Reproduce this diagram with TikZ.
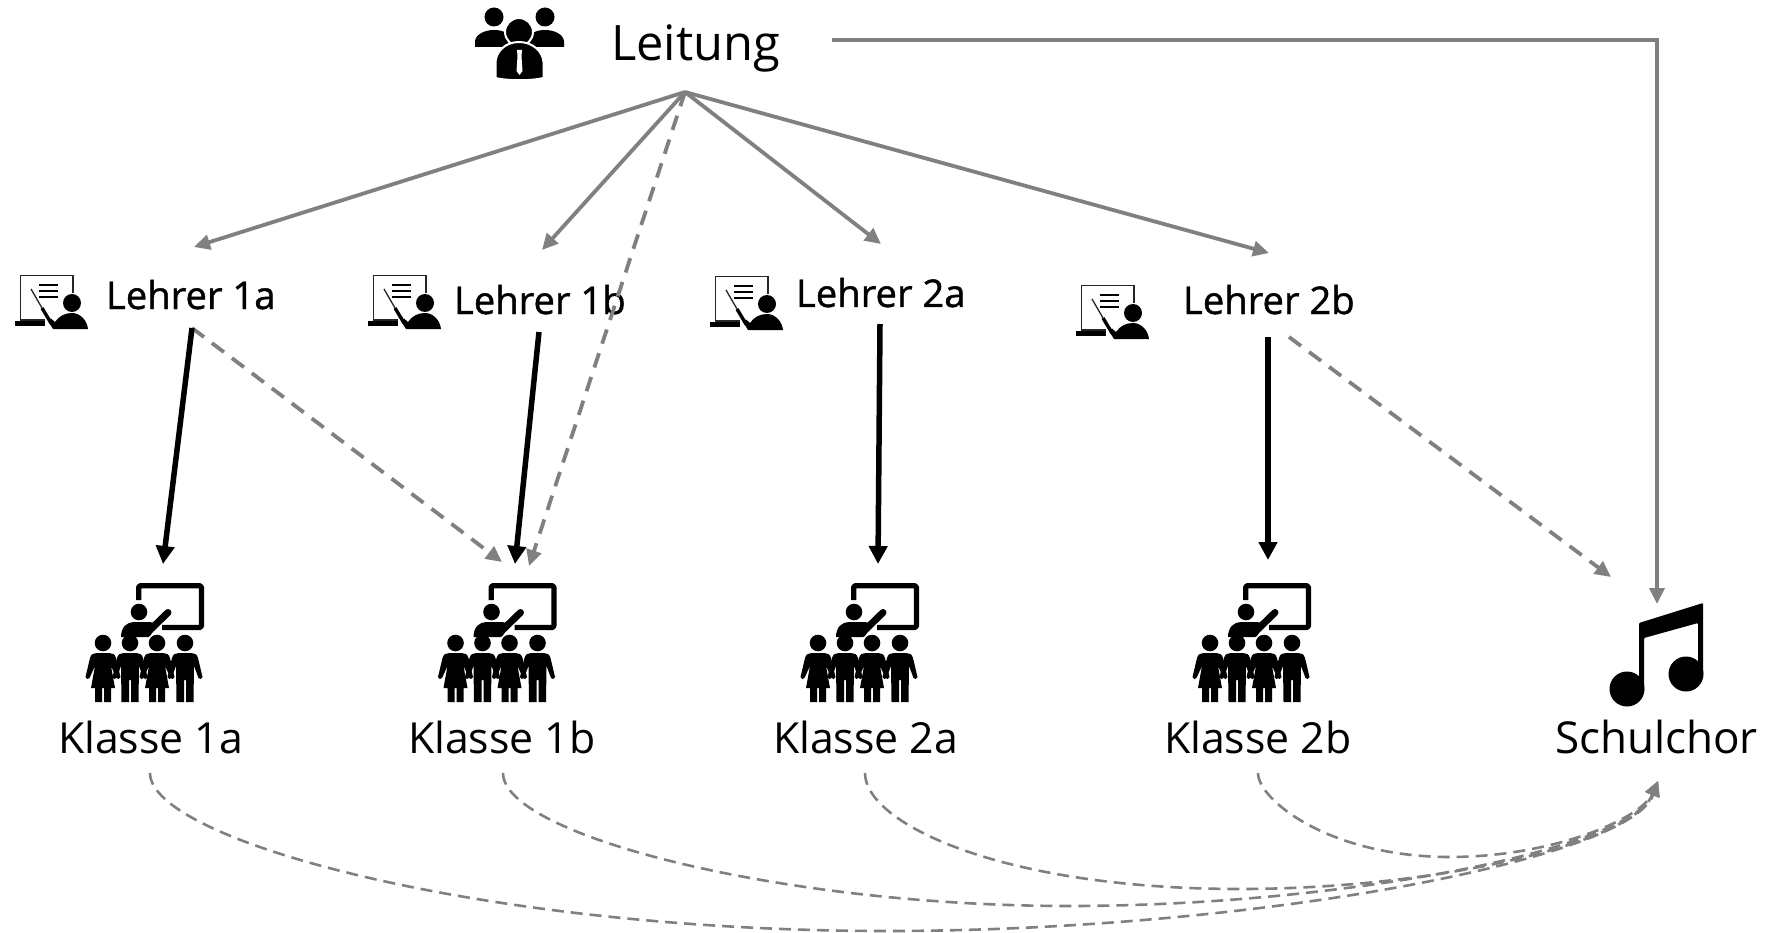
\documentclass[tikz,border=0pt]{standalone}
\usepackage{fontspec}
\setmainfont{Open Sans}
\newfontfamily\lehrfont[FakeBold=1.2]{Open Sans}
\usetikzlibrary{arrows.meta}
\definecolor{linegray}{HTML}{808080}
\tikzset{
  x=1pt,y=-1pt,
  leitlabel/.style={anchor=base west,inner sep=0,outer sep=0,font=\fontsize{48.8}{50}\selectfont},
  klasselabel/.style={anchor=base west,inner sep=0,outer sep=0,font=\fontsize{42.8}{46}\selectfont},
  chorlabel/.style={anchor=base west,inner sep=0,outer sep=0,font=\fontsize{44}{46}\selectfont},
  lehrerlabel/.style={anchor=base west,inner sep=0,outer sep=0,font=\lehrfont\fontsize{38.2}{40}\selectfont},
  grayarrow/.style={draw=linegray,line width=3.8pt,-{Triangle[length=16pt,width=15pt]}},
  graydash/.style={grayarrow,dash pattern=on 15pt off 10pt},
  blackarrow/.style={draw=black,line width=5.5pt,-{Triangle[length=18pt,width=18pt]}},
  curvedash/.style={draw=linegray,line width=2.6pt,dash pattern=on 12pt off 7pt,-{Triangle[length=15pt,width=14pt]}},
  teacher/.pic={
    \draw[line width=1.4pt,black!85] (73,293) -- (73,275.5) -- (20.5,275.5) -- (20.5,320) -- (45,320);
    \fill (15,321) rectangle (45,326);
    \foreach \yy in {285,291,297} \draw[line width=1.6pt] (39,\yy) -- (58,\yy);
    \draw[line width=1.3pt,black!85] (31,289) -- (42,308);
    \draw[line width=3.4pt] (42,308) -- (51,323);
    \fill (72,303) circle (9);
    \fill (53,329) -- (48,321) -- (51,318.5) -- (55,322) .. controls (59,316) and (65,313) .. (72,313) .. controls (80,313) and (87,320) .. (88,329) -- cycle;
  },
  boy/.pic={
    \fill (-6,0) .. controls (-9,0) and (-12,1) .. (-13,5) -- (-17.5,24) .. controls (-17.5,26) and (-14,27) .. (-13.5,25)
      -- (-9,13) -- (-8.5,49) -- (-1,49) -- (-1,27) -- (1,27) -- (1,49) -- (8.5,49) -- (9,13) -- (13.5,25)
      .. controls (14,27) and (17.5,26) .. (17.5,24) -- (13,5) .. controls (12,1) and (9,0) .. (6,0) -- cycle;
    \fill (0,-10) circle (8.3);
  },
  girl/.pic={
    \fill (-6,0) .. controls (-9,0) and (-12,1) .. (-13,5) -- (-17.5,24) .. controls (-17.5,26) and (-14,27) .. (-13.5,25)
      -- (-8,13) -- (-12,35) -- (-8,35) -- (-8,49) -- (-1,49) -- (-1,35) -- (1,35) -- (1,49) -- (8,49) -- (8,35) -- (12,35) -- (8,13) -- (13.5,25)
      .. controls (14,27) and (17.5,26) .. (17.5,24) -- (13,5) .. controls (12,1) and (9,0) .. (6,0) -- cycle;
    \fill (0,-10) circle (8.3);
  },
  classroom/.pic={
    \draw[line width=5.3pt,line join=round,rounded corners=1.5pt] (138.7,600) -- (138.7,585.7) -- (201.4,585.7) -- (201.4,627.5) -- (162,627.5);
    \fill (139,612) circle (8.3);
    \draw[line width=7pt,line cap=round] (150,630) -- (168,612.5);
    \fill (121,637) .. controls (121,627) and (127,622) .. (134,622) -- (150,622) -- (158,624) -- (150,636) -- (148,637) -- cycle;
    \path (103,653) pic {girl};
    \path (130,653) pic {boy};
    \path (157,653) pic {girl};
    \path (185,653) pic {boy};
  },
}
\begin{document}
\begin{tikzpicture}
\useasboundingbox (0,0) rectangle (1772,933);
% Leitung icon
\fill (494,17) circle (9.5);
\fill (545,17) circle (9.5);
\fill (475,47) -- (475,41) .. controls (476,34) and (485,30) .. (494,30) .. controls (503,30) and (512,33) .. (515,47) -- cycle;
\fill (564,47) -- (564,41) .. controls (563,34) and (554,30) .. (545,30) .. controls (536,30) and (527,33) .. (524,47) -- cycle;
\filldraw[draw=white,line width=2pt] (519,32) circle (14);
\filldraw[draw=white,line width=2pt] (495.5,78) -- (495.5,62) .. controls (496,52) and (505,42) .. (519,42) .. controls (533,42) and (543,52) .. (543.5,62) -- (543.5,78) .. controls (530,81) and (509,81) .. (495.5,78) -- cycle;
\fill[white] (517,50) -- (522,50) -- (521.5,56) -- (522.5,71) -- (519.5,75) -- (516.5,71) -- (517.5,56) -- cycle;
% Lehrer icons
\path (0,0) pic {teacher};
\path (353,0) pic {teacher};
\path (695,1) pic {teacher};
\path (1061,10) pic {teacher};
% classroom icons
\path (0,0) pic {classroom};
\path (352.5,0) pic {classroom};
\path (715,0) pic {classroom};
\path (1107,0) pic {classroom};
% music icon
\fill (1627,689) circle (17.5);
\fill (1686,674) circle (17.5);
\fill[rounded corners=1pt] (1639,692) -- (1639,623) -- (1703,603) -- (1703,676) -- (1698,676) -- (1698,623) -- (1644,638) -- (1644,692) -- cycle;
% labels
\node[leitlabel] (leitung) at (611,61) {Leitung};
\node[lehrerlabel] (l1a) at (106,309) {Lehrer 1a};
\node[lehrerlabel] (l1b) at (454,314) {Lehrer 1b};
\node[lehrerlabel] (l2a) at (796,307) {Lehrer 2a};
\node[lehrerlabel] (l2b) at (1183,314) {Lehrer 2b};
\node[klasselabel] (k1a) at (58,753) {Klasse 1a};
\node[klasselabel] (k1b) at (408,753) {Klasse 1b};
\node[klasselabel] (k2a) at (773,753) {Klasse 2a};
\node[klasselabel] (k2b) at (1164,753) {Klasse 2b};
\node[chorlabel] (chor) at (1555,753) {Schulchor};
% connector anchors
\coordinate (hub) at (685,92);
\coordinate (leitR) at (832,40);
\coordinate (leitC) at (1657,40);
\coordinate (chorT) at (1657,604);
\coordinate (l1aT) at (194,247);
\coordinate (l1bT) at (542,250);
\coordinate (l2aT) at (881,244);
\coordinate (l2bT) at (1269,253);
\coordinate (k1bD) at (529,566);
\coordinate (l1aB) at (192,328);
\coordinate (l1bB) at (539,332);
\coordinate (l2aB) at (880,324);
\coordinate (l2bB) at (1268,337);
\coordinate (k1aT) at (163,564);
\coordinate (k1bT) at (515,564);
\coordinate (k2aT) at (878,564);
\coordinate (k2bT) at (1268,560);
\coordinate (k1bL) at (502,562);
\coordinate (chorL) at (1611,577);
\coordinate (l2bD) at (1289,337);
\coordinate (k1aB) at (150,773);
\coordinate (k1bB) at (503,773);
\coordinate (k2aB) at (865,773);
\coordinate (k2bB) at (1258,773);
\coordinate (chorB) at (1658,781);
% connectors
\draw[grayarrow,line join=miter] (leitR) -- (leitC) -- (chorT);
\draw[grayarrow] (hub) -- (l1aT);
\draw[grayarrow] (hub) -- (l1bT);
\draw[grayarrow] (hub) -- (l2aT);
\draw[grayarrow] (hub) -- (l2bT);
\draw[graydash] (hub) -- (k1bD);
\draw[graydash] (l1aB) -- (k1bL);
\draw[graydash] (l2bD) -- (chorL);
\draw[blackarrow] (l1aB) -- (k1aT);
\draw[blackarrow] (l1bB) -- (k1bT);
\draw[blackarrow] (l2aB) -- (k2aT);
\draw[blackarrow] (l2bB) -- (k2bT);
\draw[curvedash] (k1aB) .. controls (150,840) and (480,931) .. (887,931) .. controls (1250,931) and (1630,860) .. (chorB);
\draw[curvedash] (k1bB) .. controls (503,835) and (780,906) .. (1069,906) .. controls (1340,906) and (1630,850) .. (chorB);
\draw[curvedash] (k2aB) .. controls (865,823) and (1000,889) .. (1240,889) .. controls (1430,889) and (1632,845) .. (chorB);
\draw[curvedash] (k2bB) .. controls (1258,800) and (1330,857) .. (1450,857) .. controls (1550,857) and (1640,820) .. (chorB);
\end{tikzpicture}
\end{document}
